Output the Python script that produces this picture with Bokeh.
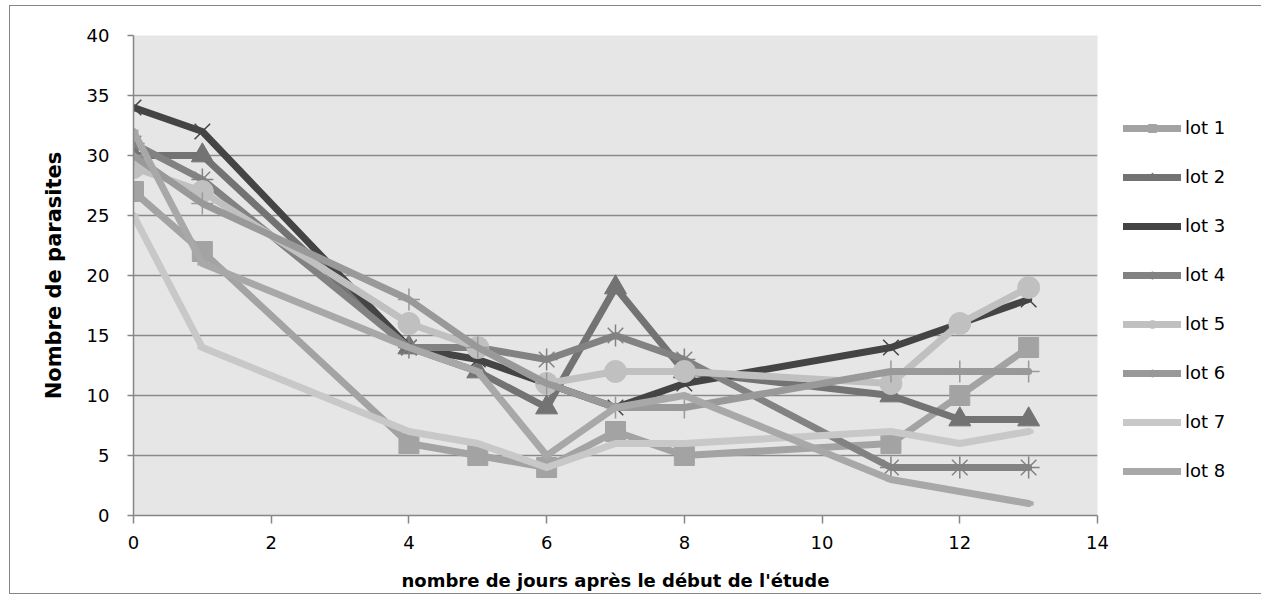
from bokeh.plotting import figure
from bokeh.models import Range1d, SingleIntervalTicker
from bokeh.embed import file_html
from bokeh.resources import INLINE

days = [0, 1, 4, 5, 6, 7, 8, 11, 12, 13]
lot1 = [27, 22, 6, 5, 4, 7, 5, 6, 10, 14]
lot2 = [30, 30, 14, 12, 9, 19, 12, 10, 8, 8]
lot3 = [34, 32, 14, 13, 11, 9, 11, 14, 16, 18]
lot4 = [31, 28, 14, 14, 13, 15, 13, 4, 4, 4]
lot5 = [29, 27, 16, 14, 11, 12, 12, 11, 16, 19]
lot6 = [30, 26, 18, 14, 11, 9, 9, 12, 12, 12]
lot7 = [25, 14, 7, 6, 4, 6, 6, 7, 6, 7]
lot8 = [32, 21, 14, 12, 5, 9, 10, 3, 2, 1]

names = ["lot 1", "lot 2", "lot 3", "lot 4", "lot 5", "lot 6", "lot 7", "lot 8"]
series = [lot1, lot2, lot3, lot4, lot5, lot6, lot7, lot8]
colors = ["#a3a3a3", "#737373", "#444444", "#828282", "#c0c0c0", "#999999", "#c8c8c8", "#a8a8a8"]
markers = ["square", "triangle", "x", "asterisk", "circle", "cross", "dash", "dash"]
msizes = [20, 22, 22, 22, 22, 22, 10, 10]

FONT = "DejaVu Sans"

p = figure(frame_width=964, frame_height=480,
           min_border_left=123, min_border_right=158, min_border_top=29, min_border_bottom=78,
           x_range=Range1d(0, 14), y_range=Range1d(0, 40),
           output_backend="svg", toolbar_location=None)
p.styles = {"border": "1px solid #868686", "margin-left": "9px", "margin-top": "5px"}
p.background_fill_color = "#e6e6e6"
p.border_fill_color = "white"
p.outline_line_color = None

p.xaxis.ticker = SingleIntervalTicker(interval=2)
p.yaxis.ticker = SingleIntervalTicker(interval=5)
for ax in (p.xaxis, p.yaxis):
    ax.axis_line_color = "#868686"
    ax.axis_line_width = 1.5
    ax.major_tick_line_color = "#868686"
    ax.major_tick_line_width = 1.5
    ax.major_tick_in = 0
    ax.minor_tick_line_color = None
    ax.major_label_text_font = FONT
    ax.major_label_text_font_size = "18px"
    ax.major_label_text_color = "black"
    ax.axis_label_text_font = FONT
    ax.axis_label_text_font_style = "bold"
    ax.axis_label_text_color = "black"
p.xaxis.axis_label_text_font_size = "18px"
p.yaxis.axis_label_text_font_size = "21px"
p.xaxis.major_tick_out = 8
p.yaxis.major_tick_out = 6
p.xaxis.major_label_standoff = 12
p.yaxis.major_label_standoff = 18
p.xaxis.axis_label_standoff = 18
p.yaxis.axis_label_standoff = 18
p.xaxis.axis_label = "nombre de jours après le début de l'étude"
p.yaxis.axis_label = "Nombre de parasites"

p.xgrid.visible = False
p.ygrid.grid_line_color = "#8a8a8a"
p.ygrid.grid_line_width = 1.5

for name, ys, c, m, s in zip(names, series, colors, markers, msizes):
    p.line(days, ys, line_color=c, line_width=7, line_join="round", line_cap="round",
           legend_label=name)
    if m in ("x", "asterisk", "cross"):
        p.scatter(days, ys, marker=m, size=s, line_color=c, line_width=1.5,
                  fill_color=None, legend_label=name)
    elif m == "dash":
        p.scatter(days, ys, marker=m, size=s, line_color=c, line_width=4,
                  legend_label=name)
    else:
        p.scatter(days, ys, marker=m, size=s, fill_color=c, line_color=c,
                  line_width=1, legend_label=name)

lg = p.legend[0]
p.center = [r for r in p.center if r is not lg]
p.add_layout(lg, "right")
lg.location = (26, 34)
lg.margin = 0
lg.padding = 0
lg.border_line_color = None
lg.background_fill_alpha = 0
lg.glyph_width = 58
lg.glyph_height = 20
lg.label_height = 20
lg.spacing = 28
lg.label_standoff = 4
lg.label_text_font = FONT
lg.label_text_font_size = "18px"
lg.label_text_color = "black"

open("out.html", "w").write(file_html(p, INLINE))
